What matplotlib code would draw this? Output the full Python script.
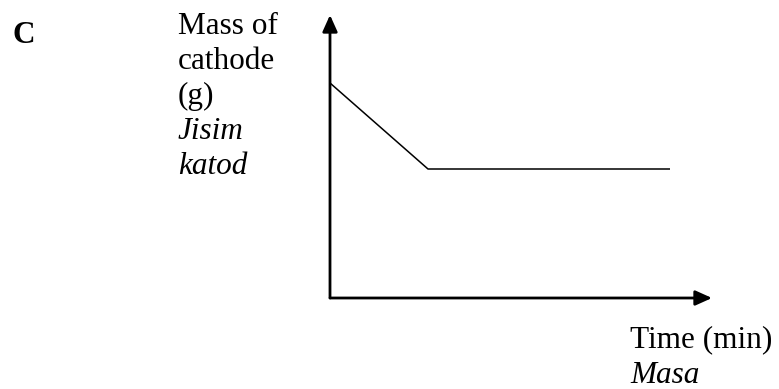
import numpy as np
import matplotlib
matplotlib.use("Agg")
from matplotlib import pyplot as plt

# sketch data (arbitrary units)
time = [0, 98, 340]
mass = [215, 129, 129]
ylabel_lines = ["Mass of", "cathode", "(g)"]
ylabel_malay = ["Jisim", "katod"]
xlabel = "Time (min)"
xlabel_malay = "Masa"

W, H = 779, 389
plt.rcParams['font.family'] = ['Liberation Serif', 'DejaVu Serif']
fig = plt.figure(figsize=(W / 100, H / 100), dpi=100)

# axes box in pixels: origin at (330, 298), top at y=15, right at x=712
x0, y0, x1, y1 = 330, 298, 712, 15
ax = fig.add_axes([x0 / W, 1 - y0 / H, (x1 - x0) / W, (y0 - y1) / H])
ax.set_xlim(0, x1 - x0)
ax.set_ylim(0, y0 - y1)
ax.axis("off")

ax.plot(time, mass, color="black", lw=1.1, solid_capstyle="butt")

arrow = dict(arrowstyle="-|>,head_length=1.0,head_width=0.45", color="black", lw=2.0,
             shrinkA=0, shrinkB=0)
ax.annotate("", xy=(0, 1), xytext=(0, 0), xycoords="axes fraction", arrowprops=arrow)
ax.annotate("", xy=(1, 0), xytext=(0, 0), xycoords="axes fraction", arrowprops=arrow)

fs = 22.5
fig.text(12 / W, 1 - 43 / H, "C", fontsize=fs, fontweight="bold", va="baseline")
for i, s in enumerate(ylabel_lines):
    fig.text(178 / W, 1 - (34 + 35 * i) / H, s, fontsize=fs, va="baseline")
for i, s in enumerate(ylabel_malay):
    fig.text(178 / W, 1 - (139 + 35 * i) / H, s, fontsize=fs, style="italic", va="baseline")
fig.text(630 / W, 1 - 347 / H, xlabel, fontsize=fs, va="baseline")
fig.text(630 / W, 1 - 383 / H, xlabel_malay, fontsize=fs, style="italic", va="baseline")

plt.savefig("out.png", dpi=100)
plt.close()
